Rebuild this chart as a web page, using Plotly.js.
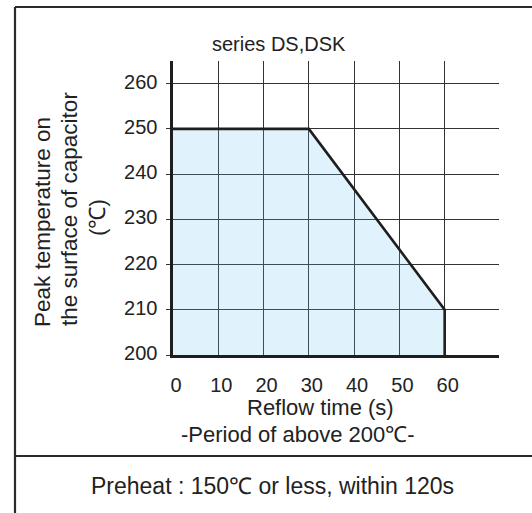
<!DOCTYPE html>
<html>
<head>
<meta charset="utf-8">
<script src="https://cdn.plot.ly/plotly-3.0.1.min.js"></script>
<style>html,body{margin:0;padding:0;background:#fff;}#chart{width:532px;height:513px;}</style>
</head>
<body>
<div id="chart"></div>
<script>
// Data
const timeS = [0, 30, 60, 60];
const peakTempC = [250, 250, 210, 200];
const baseTime = [0, 60];
const baseTemp = [200, 200];
const xTicks = [0, 10, 20, 30, 40, 50, 60];
const yTicks = [200, 210, 220, 230, 240, 250, 260];
const chartTitle = 'series DS,DSK';
const yTitleLines = ['Peak temperature on', 'the surface of capacitor', '(℃)'];
const xTitleLines = ['Reflow time (s)', '-Period of above 200℃-'];
const footNote = 'Preheat : 150℃ or less, within 120s';

// Layout geometry (pixels)
const W = 532, H = 513;
const L = 173, R = 499, T = 61, B = 355;
const xp = px => (px - L) / (R - L);
const yp = py => (B - py) / (B - T);
const FONT = 'Liberation Sans, Arial, sans-serif';
const TXT = '#222';

const traces = [
  {x: baseTime, y: baseTemp, mode: 'lines', line: {width: 0, color: 'rgba(0,0,0,0)'}, hoverinfo: 'skip', showlegend: false},
  {x: timeS, y: peakTempC, mode: 'lines', fill: 'tonexty', fillcolor: 'rgba(100,190,235,0.2)',
   line: {color: '#1e1e1e', width: 2.6}, showlegend: false}
];

const ann = (text, x, y, size, opts) => Object.assign({
  text: text, xref: 'paper', yref: 'paper', x: xp(x), y: yp(y), showarrow: false,
  xanchor: 'center', yanchor: 'middle', font: {family: FONT, size: size, color: TXT}
}, opts || {});

const annotations = [
  ann(chartTitle, 279, 44, 20),
  ann(yTitleLines[0], 42, 222, 22.5, {textangle: -90}),
  ann(yTitleLines[1], 69, 209, 22.5, {textangle: -90}),
  ann(yTitleLines[2], 97, 218, 22.5, {textangle: -90}),
  ann(xTitleLines[0], 320, 407, 22),
  ann(xTitleLines[1], 298, 434, 22),
  ann(footNote, 272, 486, 23)
];

const line = (x0, y0, x1, y1) => ({type: 'line', xref: 'paper', yref: 'paper',
  x0: xp(x0), y0: yp(y0), x1: xp(x1), y1: yp(y1), line: {color: '#2a2a2a', width: 2.2}});

const shapes = [
  line(15, 7, W + 5, 7),
  line(15, 7, 15, H + 5),
  line(15, 456, W + 5, 456)
];

const layout = {
  width: W, height: H,
  margin: {l: L, r: W - R, t: T, b: H - B, pad: 0},
  paper_bgcolor: '#fff', plot_bgcolor: '#fff',
  showlegend: false,
  font: {family: FONT, color: TXT},
  xaxis: {
    range: [0, 72], tickvals: xTicks, ticktext: xTicks.map(String),
    showgrid: true, gridcolor: '#333', gridwidth: 1,
    showline: true, linecolor: '#1e1e1e', linewidth: 2.6,
    zeroline: false, ticks: '', ticklabelstandoff: 10, ticklabelshift: 3,
    tickfont: {family: FONT, size: 20, color: TXT}, fixedrange: true
  },
  yaxis: {
    range: [200, 265], tickvals: yTicks, ticktext: yTicks.map(String),
    showgrid: true, gridcolor: '#333', gridwidth: 1,
    showline: true, linecolor: '#1e1e1e', linewidth: 2.6,
    zeroline: false, ticks: 'outside', ticklen: 4, tickwidth: 1, tickcolor: '#333',
    ticklabelstandoff: 5, ticklabelshift: -2,
    tickfont: {family: FONT, size: 20, color: TXT}, fixedrange: true
  },
  annotations: annotations,
  shapes: shapes
};

Plotly.newPlot('chart', traces, layout, {displayModeBar: false, staticPlot: true});
</script>
</body>
</html>
